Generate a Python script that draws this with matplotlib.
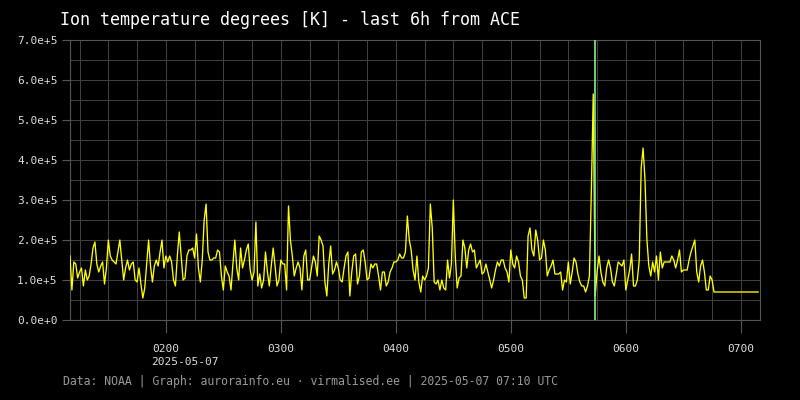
import numpy as np
import matplotlib
matplotlib.use("Agg")
import matplotlib.pyplot as plt
import matplotlib.dates as mdates
from matplotlib.ticker import MultipleLocator, FuncFormatter

# ---- data -------------------------------------------------------------
start_time = "2025-05-07T01:10"
end_time = "2025-05-07T07:10"
marker_time = "2025-05-07T05:44"
date_label = "2025-05-07"

# Ion temperature, one sample per minute from 01:10 UTC, in units of 1e5 K
ion_temp_1e5 = [
    # 01:10 - 02:10
    1.6, 0.75, 1.45, 1.4, 1.05, 1.2, 1.3, 0.85, 1.25, 1.0,
    1.1, 1.4, 1.8, 1.95, 1.4, 1.2, 1.35, 1.45, 0.9, 1.3,
    2.0, 1.6, 1.5, 1.45, 1.4, 1.7, 2.0, 1.5, 1.0, 1.3,
    1.5, 1.25, 1.4, 1.45, 1.0, 0.95, 1.3, 0.9, 0.55, 0.8,
    1.4, 2.0, 1.35, 0.95, 1.35, 1.5, 1.35, 1.7, 2.0, 1.3,
    1.6, 1.45, 1.6, 1.45, 1.0, 0.85, 1.6, 2.2, 1.6, 1.0,
    1.05,
    # 02:11 - 03:11
    1.6, 1.75, 1.75, 1.8, 1.55, 2.15, 1.3, 0.95, 1.5, 2.5,
    2.9, 1.7, 1.5, 1.5, 1.55, 1.55, 1.75, 1.7, 1.1, 0.75,
    1.35, 1.2, 1.1, 0.75, 1.4, 2.0, 1.3, 1.0, 1.8, 1.3,
    1.5, 1.75, 1.9, 1.25, 1.0, 1.2, 2.45, 0.85, 1.15, 0.8,
    1.0, 1.7, 1.2, 0.85, 1.35, 1.8, 1.35, 0.85, 1.0, 1.5,
    1.4, 1.4, 0.75, 2.85, 2.0, 1.6, 1.1, 1.3, 1.45, 1.3,
    0.75,
    # 03:12 - 04:11
    1.6, 1.75, 1.0, 1.0, 1.3, 1.6, 1.45, 1.1, 2.1, 2.0,
    1.85, 0.95, 0.6, 1.4, 1.85, 1.15, 1.25, 1.45, 1.3, 1.0,
    0.95, 1.3, 1.6, 1.7, 0.6, 1.2, 1.6, 1.65, 0.9, 1.1,
    1.7, 1.75, 1.45, 1.0, 1.05, 1.4, 1.3, 1.4, 1.4, 1.1,
    0.75, 1.2, 1.2, 0.85, 0.95, 1.2, 1.3, 1.45, 1.45, 1.5,
    1.65, 1.55, 1.55, 1.7, 2.6, 2.0, 1.75, 1.25, 1.0, 1.6,
    # 04:12 - 05:12
    0.95, 0.7, 1.1, 1.0, 1.1, 1.3, 2.9, 2.3, 0.95, 0.9,
    1.0, 0.75, 1.0, 0.8, 0.75, 1.5, 1.05, 1.4, 3.0, 1.6,
    0.8, 1.05, 1.1, 2.0, 1.8, 1.3, 1.75, 1.9, 1.7, 1.75,
    1.3, 1.4, 1.5, 1.15, 1.2, 1.4, 1.2, 1.0, 0.8, 1.0,
    1.25, 1.45, 1.35, 1.5, 1.5, 1.3, 1.2, 0.95, 1.75, 1.4,
    1.3, 1.6, 1.45, 1.1, 1.0, 0.55, 0.55, 2.1, 2.3, 1.75,
    1.6,
    # 05:13 - 06:12
    2.25, 2.0, 1.5, 1.55, 2.0, 1.75, 1.1, 1.25, 1.35, 1.5,
    1.15, 1.15, 1.15, 1.2, 0.75, 1.0, 0.95, 1.45, 0.9, 1.2,
    1.55, 1.45, 1.15, 0.95, 0.85, 0.85, 0.7, 0.85, 1.1, 3.2,
    5.65, 0.6, 1.2, 1.6, 1.2, 0.95, 0.85, 1.3, 1.5, 1.3,
    0.95, 0.85, 1.15, 1.45, 1.4, 1.35, 1.5, 0.75, 1.0, 1.25,
    1.65, 0.85, 0.85, 1.0, 1.5, 3.8, 4.3, 3.5, 2.0, 1.35,
    # 06:13 - 07:09
    1.1, 1.45, 1.2, 1.6, 1.0, 1.7, 1.3, 1.45, 1.45, 1.45,
    1.45, 1.6, 1.5, 1.3, 1.5, 1.75, 1.2, 1.25, 1.25, 1.25,
    1.5, 1.7, 1.85, 2.0, 1.2, 0.95, 1.35, 1.5, 1.2, 0.75,
    0.75, 1.1, 1.0, 0.7, 0.7, 0.7, 0.7, 0.7, 0.7, 0.7,
    0.7, 0.7, 0.7, 0.7, 0.7, 0.7, 0.7, 0.7, 0.7, 0.7,
    0.7, 0.7, 0.7, 0.7, 0.7, 0.7, 0.7,
]

title = "Ion temperature degrees [K] - last 6h from ACE"
footer = "Data: NOAA | Graph: aurorainfo.eu \u00b7 virmalised.ee | 2025-05-07 07:10 UTC"

# ---- styling ----------------------------------------------------------
BG = "#000000"
GRID = "#404040"
SPINE = "#555555"
TICK_TXT = "#dddddd"
LINE = "#ffff00"
MARK = "#88ee88"
MONO = "DejaVu Sans Mono"

values = np.array(ion_temp_1e5) * 1e5
times = np.datetime64(start_time) + np.arange(len(values)).astype("timedelta64[m]")

fig = plt.figure(figsize=(8, 4), dpi=100, facecolor=BG)
ax = fig.add_axes([70 / 800, 80 / 400, 690 / 800, 280 / 400], facecolor=BG)

ax.plot(times, values, color=LINE, lw=0.95, zorder=3)
ax.axvline(np.datetime64(marker_time), color=MARK, lw=1.2, zorder=4)

ax.set_xlim(np.datetime64(start_time), np.datetime64(end_time))
ax.set_ylim(0, 7e5)

ax.xaxis.set_major_locator(mdates.HourLocator())
ax.xaxis.set_minor_locator(mdates.MinuteLocator(byminute=[0, 15, 30, 45]))
ax.xaxis.set_major_formatter(mdates.DateFormatter("%H%M"))
ax.yaxis.set_major_locator(MultipleLocator(1e5))
ax.yaxis.set_minor_locator(MultipleLocator(0.5e5))


def sci_fmt(v, pos):
    if abs(v) < 1e-9:
        return "0.0e+0"
    e = int(np.floor(np.log10(abs(v))))
    return f"{v / 10 ** e:.1f}e+{e}"


ax.yaxis.set_major_formatter(FuncFormatter(sci_fmt))

ax.grid(True, which="both", color=GRID, lw=0.75, zorder=0)
ax.set_axisbelow(True)
for s in ax.spines.values():
    s.set_color(SPINE)
    s.set_linewidth(0.8)

ax.tick_params(axis="x", which="major", length=9, width=0.8, color=SPINE,
               labelcolor=TICK_TXT, labelsize=8, pad=8)
ax.tick_params(axis="y", which="major", length=6, width=0.8, color=SPINE,
               labelcolor=TICK_TXT, labelsize=8, pad=3)
ax.tick_params(which="minor", length=0)
for lab in ax.get_xticklabels() + ax.get_yticklabels():
    lab.set_family(MONO)

fig.text(60 / 800, 1 - 20 / 400, title, color="#ffffff", family=MONO,
         fontsize=12, ha="left", va="center")
fig.text(151 / 800, 1 - 362 / 400, date_label, color=TICK_TXT, family=MONO,
         fontsize=8, ha="left", va="center")
fig.text(63 / 800, 1 - 382 / 400, footer, color="#999999", family=MONO,
         fontsize=8.3, ha="left", va="center")

fig.savefig("out.png", dpi=100, facecolor=BG)
